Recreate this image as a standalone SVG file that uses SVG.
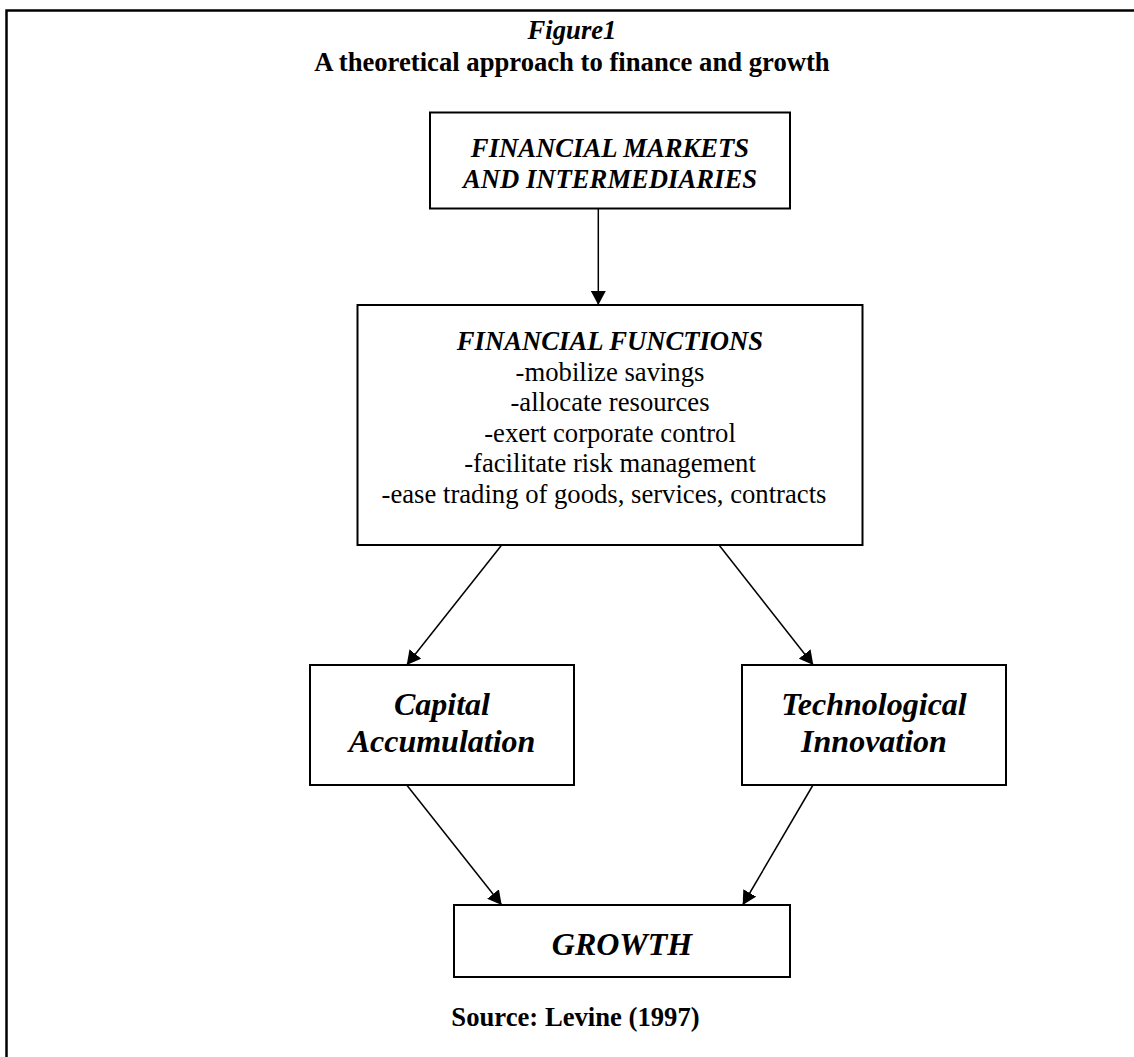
<svg xmlns="http://www.w3.org/2000/svg" width="1134" height="1057" viewBox="0 0 1134 1057">
<defs>
<style>
.box{fill:#fff;stroke:#000;stroke-width:2}
.edge{stroke:#000;stroke-width:1.5;fill:none}
.t{font-family:"Liberation Serif","Times New Roman",serif;fill:#000;text-anchor:middle}
.bi{font-weight:bold;font-style:italic}
.b{font-weight:bold}
.s{font-size:26.67px}
.l{font-size:32px}
</style>
<marker id="ah" markerUnits="userSpaceOnUse" markerWidth="15" markerHeight="15" refX="14" refY="7.5" orient="auto">
<path d="M0,0 L14,7.5 L0,15 z" fill="#000"/>
</marker>
</defs>
<rect width="1134" height="1057" fill="#fff"/>
<g id="frame">
<path d="M6.5,1057 L6.5,10.5 L1134,10.5" fill="none" stroke="#000" stroke-width="2.5"/>
</g>
<g id="title">
<text class="t bi s" x="572" y="39">Figure1</text>
<text class="t b s" x="572" y="71">A theoretical approach to finance and growth</text>
</g>
<g id="connectors">
<line class="edge" x1="598.3" y1="209" x2="598.3" y2="305" marker-end="url(#ah)"/>
<line class="edge" x1="501.7" y1="545" x2="406.7" y2="665" marker-end="url(#ah)"/>
<line class="edge" x1="719" y1="545" x2="813.3" y2="665" marker-end="url(#ah)"/>
<line class="edge" x1="406.7" y1="785" x2="501.7" y2="905" marker-end="url(#ah)"/>
<line class="edge" x1="813" y1="785" x2="742.7" y2="905" marker-end="url(#ah)"/>
</g>
<g id="markets">
<rect class="box" x="430" y="112.5" width="360" height="96"/>
<text class="t bi s" x="610" y="157">FINANCIAL MARKETS</text>
<text class="t bi s" x="610" y="188">AND INTERMEDIARIES</text>
</g>
<g id="functions">
<rect class="box" x="357.5" y="305" width="505" height="240"/>
<text class="t bi s" x="610" y="350">FINANCIAL FUNCTIONS</text>
<text class="t s" x="610" y="380.5">-mobilize savings</text>
<text class="t s" x="610" y="411">-allocate resources</text>
<text class="t s" x="610" y="441.5">-exert corporate control</text>
<text class="t s" x="610" y="472">-facilitate risk management</text>
<text class="t s" x="604" y="502.5">-ease trading of goods, services, contracts</text>
</g>
<g id="capital">
<rect class="box" x="310" y="665" width="264" height="120"/>
<text class="t bi l" x="442" y="714.5">Capital</text>
<text class="t bi l" x="442" y="752">Accumulation</text>
</g>
<g id="technology">
<rect class="box" x="742" y="665" width="264" height="120"/>
<text class="t bi l" x="874" y="714.5">Technological</text>
<text class="t bi l" x="874" y="752">Innovation</text>
</g>
<g id="growth">
<rect class="box" x="454" y="905" width="336" height="72"/>
<text class="t bi l" x="622" y="954.5">GROWTH</text>
</g>
<g id="source">
<text class="t b s" x="575.5" y="1026">Source: Levine (1997)</text>
</g>
</svg>
